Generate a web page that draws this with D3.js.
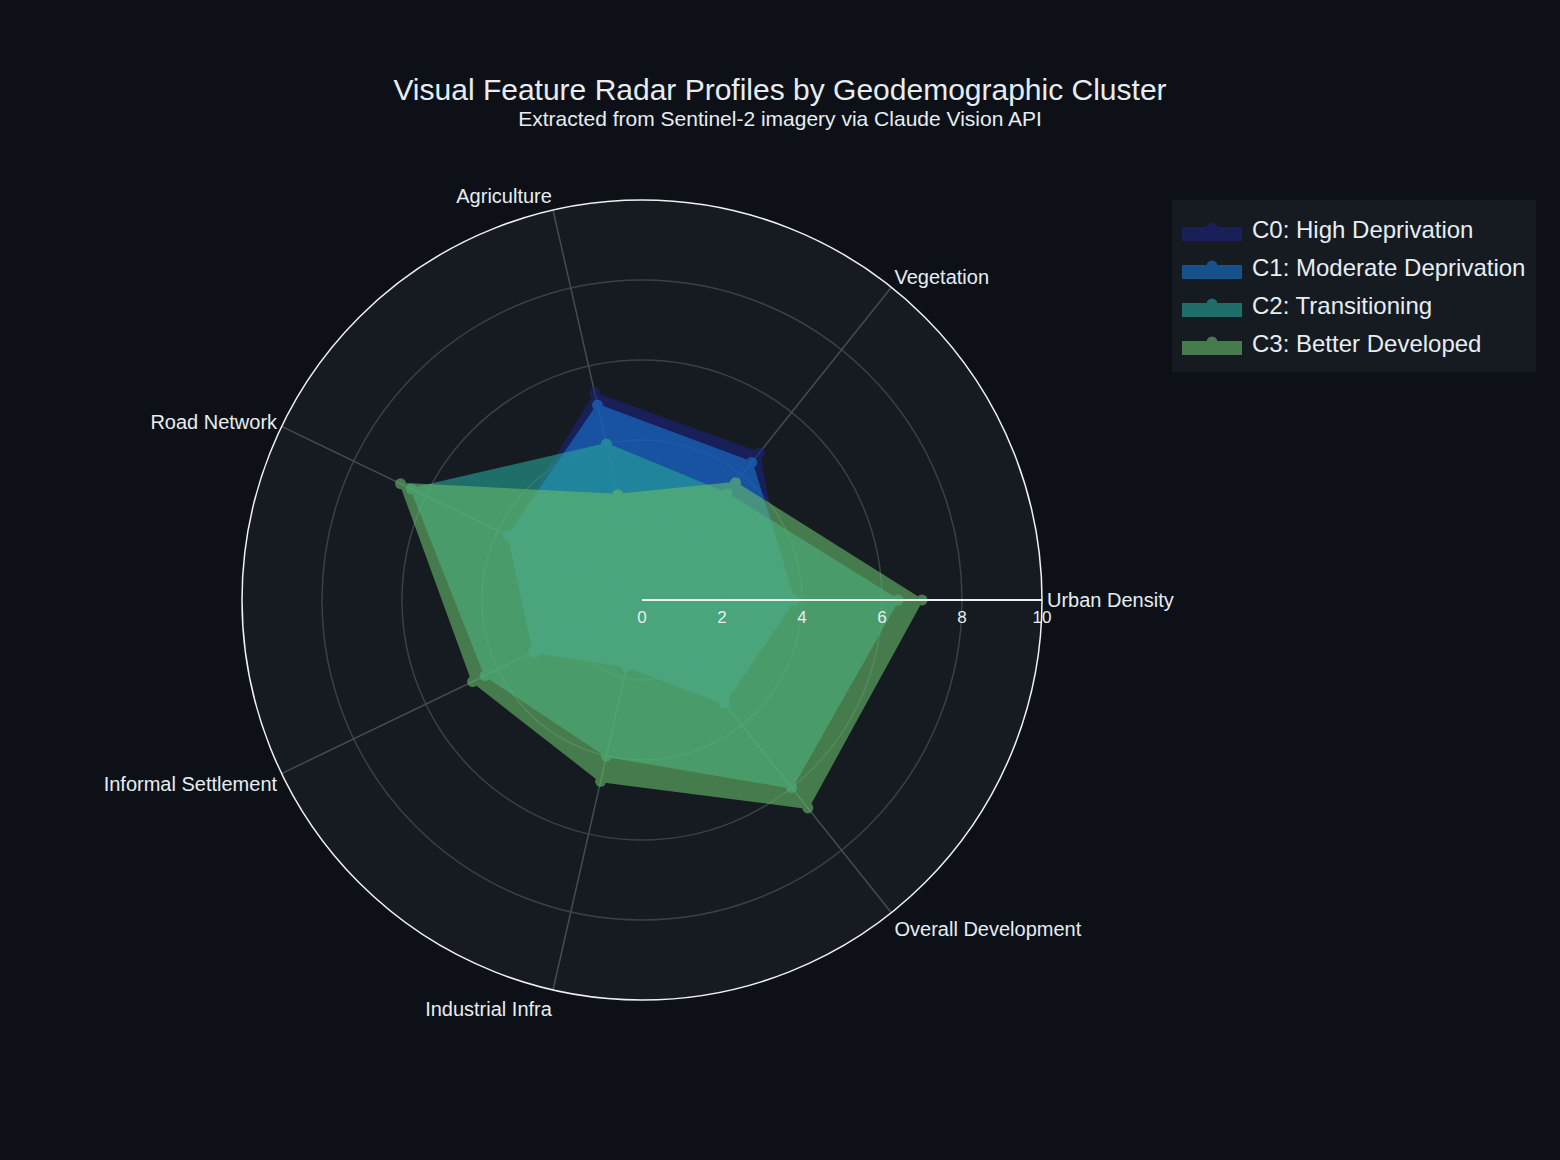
<!DOCTYPE html>
<html>
<head>
<meta charset="utf-8">
<script src="https://cdn.jsdelivr.net/npm/d3@7"></script>
<style>
  html, body { margin: 0; padding: 0; background: #0d1117; }
  svg { display: block; font-family: "Liberation Sans", Arial, sans-serif; }
</style>
</head>
<body>
<svg id="chart" width="1560" height="1160"></svg>
<script>
const categories = ["Urban Density", "Vegetation", "Agriculture", "Road Network",
                    "Informal Settlement", "Industrial Infra", "Overall Development"];
const seriesNames = ["C0: High Deprivation", "C1: Moderate Deprivation", "C2: Transitioning", "C3: Better Developed"];
const seriesColors = ["#1a237e", "#1976d2", "#26a69a", "#66bb6a"];
const c0Values = [3.6, 4.7, 5.3, 3.7, 3.0, 1.7, 3.3];
const c1Values = [3.8, 4.4, 5.0, 3.7, 3.0, 1.7, 3.3];
const c2Values = [6.4, 3.4, 4.0, 6.4, 4.35, 4.0, 6.0];
const c3Values = [7.0, 3.75, 2.7, 6.7, 4.7, 4.65, 6.65];
const radialTicks = [0, 2, 4, 6, 8, 10];
const titleText = "Visual Feature Radar Profiles by Geodemographic Cluster";
const subtitleText = "Extracted from Sentinel-2 imagery via Claude Vision API";

const series = [c0Values, c1Values, c2Values, c3Values].map((v, i) => ({
  name: seriesNames[i], color: seriesColors[i], values: v
}));

const svg = d3.select("#chart");
const cx = 642, cy = 600, R = 400;
const rScale = d3.scaleLinear().domain([0, 10]).range([0, R]);
// angle: counterclockwise from east, in radians
const thetaScale = d3.scaleLinear().domain([0, categories.length]).range([0, 2 * Math.PI]);
const px = (i, v) => cx + rScale(v) * Math.cos(thetaScale(i));
const py = (i, v) => cy - rScale(v) * Math.sin(thetaScale(i));

// Titles
svg.append("text").attr("x", 780).attr("y", 100).attr("text-anchor", "middle")
  .attr("font-size", 30).attr("fill", "#e6edf3").text(titleText);
svg.append("text").attr("x", 780).attr("y", 126).attr("text-anchor", "middle")
  .attr("font-size", 21).attr("fill", "#e6edf3").text(subtitleText);

const g = svg.append("g");
// polar background
g.append("circle").attr("cx", cx).attr("cy", cy).attr("r", R).attr("fill", "#161b22");

// grid circles
g.selectAll(".gridc").data(radialTicks.filter(t => t > 0 && t < 10)).join("circle")
  .attr("cx", cx).attr("cy", cy).attr("r", d => rScale(d))
  .attr("fill", "none").attr("stroke", "#3a4049").attr("stroke-width", 1.5);

// spokes
g.selectAll(".spoke").data(categories).join("line")
  .attr("x1", cx).attr("y1", cy)
  .attr("x2", (d, i) => px(i, 10)).attr("y2", (d, i) => py(i, 10))
  .attr("stroke", "#454b54").attr("stroke-width", 1.5);

// traces
const lineGen = d3.lineRadial()
  .angle((d, i) => Math.PI / 2 - thetaScale(i))
  .radius(d => rScale(d))
  .curve(d3.curveLinearClosed);

series.forEach(s => {
  const tg = g.append("g").attr("opacity", 0.6);
  tg.append("path")
    .attr("transform", `translate(${cx},${cy})`)
    .attr("d", lineGen(s.values))
    .attr("fill", s.color).attr("stroke", s.color).attr("stroke-width", 2)
    .attr("stroke-linejoin", "round");
  tg.selectAll("circle").data(s.values).join("circle")
    .attr("cx", (d, i) => px(i, d)).attr("cy", (d, i) => py(i, d))
    .attr("r", 5.5).attr("fill", s.color);
});

// outer circle
g.append("circle").attr("cx", cx).attr("cy", cy).attr("r", R)
  .attr("fill", "none").attr("stroke", "#f0f0f0").attr("stroke-width", 1.5);

// radial axis line
g.append("line").attr("x1", cx).attr("y1", cy).attr("x2", cx + rScale(10)).attr("y2", cy)
  .attr("stroke", "#f0f0f0").attr("stroke-width", 2);

// radial tick labels
g.selectAll(".rtick").data(radialTicks).join("text")
  .attr("x", d => cx + rScale(d)).attr("y", cy + 17)
  .attr("text-anchor", "middle").attr("dominant-baseline", "central")
  .attr("font-size", 17).attr("fill", "#e6edf3").text(d => d);

// angular labels
g.selectAll(".alabel").data(categories).join("text")
  .attr("x", (d, i) => cx + (R + 5) * Math.cos(thetaScale(i)))
  .attr("y", (d, i) => {
    const s = Math.sin(thetaScale(i));
    if (Math.abs(s) < 0.01) return cy;
    return cy - (R + 5) * s + 3.5 - (s > 0 ? 13 : 11) * s;
  })
  .attr("text-anchor", (d, i) => {
    const c = Math.cos(thetaScale(i));
    return c > 0.01 ? "start" : (c < -0.01 ? "end" : "middle");
  })
  .attr("dominant-baseline", "central")
  .attr("font-size", 20).attr("fill", "#e6edf3").text(d => d);

// legend
const lg = svg.append("g");
lg.append("rect").attr("x", 1172).attr("y", 200).attr("width", 364).attr("height", 172).attr("fill", "#161b22");
series.forEach((s, i) => {
  const y = 230 + i * 38;
  const ig = lg.append("g").attr("opacity", 0.6);
  ig.append("rect").attr("x", 1182).attr("y", y - 3).attr("width", 60).attr("height", 14).attr("fill", s.color);
  ig.append("circle").attr("cx", 1212).attr("cy", y - 2).attr("r", 5.5).attr("fill", s.color);
  lg.append("text").attr("x", 1252).attr("y", y - 1).attr("dominant-baseline", "central")
    .attr("font-size", 24).attr("fill", "#e6edf3").text(s.name);
});
</script>
</body>
</html>
